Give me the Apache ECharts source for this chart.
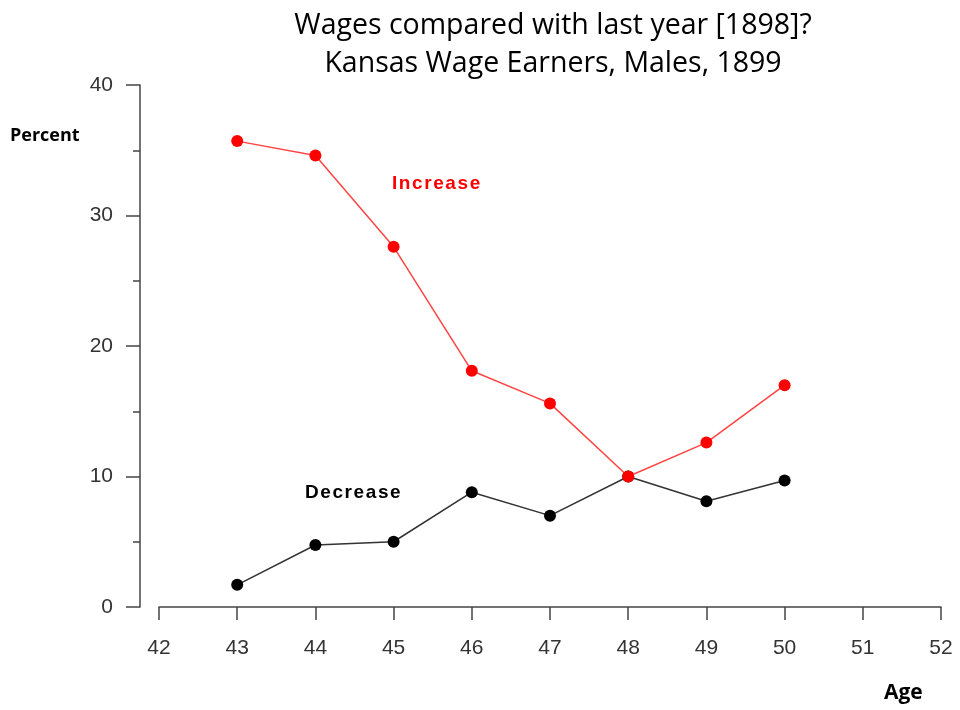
<!DOCTYPE html>
<html><head><meta charset="utf-8">
<script src="https://cdn.jsdelivr.net/npm/echarts@6/dist/echarts.min.js"></script>
<style>html,body{margin:0;padding:0;background:#fff}#c{width:960px;height:710px}</style>
</head><body><div id="c"></div>
<script>
var ages = [43, 44, 45, 46, 47, 48, 49, 50];
var increase = [35.7, 34.6, 27.6, 18.1, 15.6, 10.0, 12.6, 17.0];
var decrease = [1.7, 4.75, 5.0, 8.8, 7.0, 10.0, 8.1, 9.7];
var titleLines = ['Wages compared with last year [1898]?', 'Kansas Wage Earners, Males, 1899'];

function pairs(xs, ys){ return xs.map(function(x,i){return [x, ys[i]];}); }
function spaced(s){ return s.split('').join('\u200A'); }

var chart = echarts.init(document.getElementById('c'));
chart.setOption({
  animation: false,
  backgroundColor: '#fff',
  title: {
    text: titleLines.join('\n'),
    left: 548, top: 2, textAlign: 'center',
    textStyle: {fontFamily: 'Open Sans', fontSize: 28.5, fontWeight: 'normal', color: '#000', lineHeight: 38}
  },
  grid: {left: 159, right: 19, top: 85, bottom: 103},
  xAxis: {
    type: 'value', min: 42, max: 52, interval: 1,
    axisLine: {show: true, lineStyle: {color: '#444', width: 1.5}},
    axisTick: {show: true, length: 13, lineStyle: {color: '#444', width: 1.5}},
    axisLabel: {margin: 31, fontFamily: 'Liberation Sans', fontSize: 21, color: '#333'},
    splitLine: {show: false}
  },
  yAxis: {
    type: 'value', min: 0, max: 40, interval: 10, offset: 19,
    axisLine: {show: true, lineStyle: {color: '#444', width: 1.5}},
    axisTick: {show: true, length: 14, lineStyle: {color: '#444', width: 1.5}},
    minorTick: {show: true, splitNumber: 2, length: 7, lineStyle: {color: '#444', width: 1.5}},
    axisLabel: {margin: 27, fontFamily: 'Liberation Sans', fontSize: 21, color: '#333'},
    splitLine: {show: false}
  },
  graphic: [
    {type: 'text', left: 10, top: 127, style: {text: 'Percent', font: 'bold 18px "Open Sans"', fill: '#000'}},
    {type: 'text', left: 884, top: 683, style: {text: 'Age', font: 'bold 21px "Open Sans"', fill: '#000'}},
    {type: 'text', left: 392, top: 174, style: {text: spaced('Increase'), font: 'bold 19px "Liberation Sans"', fill: '#ff0000'}},
    {type: 'text', left: 305, top: 483, style: {text: spaced('Decrease'), font: 'bold 19px "Liberation Sans"', fill: '#000'}}
  ],
  series: [
    {
      type: 'line', name: 'Decrease', data: pairs(ages, decrease),
      symbol: 'circle', symbolSize: 12,
      lineStyle: {color: '#333', width: 1.5},
      itemStyle: {color: '#000'}, z: 2
    },
    {
      type: 'line', name: 'Increase', data: pairs(ages, increase),
      symbol: 'circle', symbolSize: 12,
      lineStyle: {color: '#ff4444', width: 1.5},
      itemStyle: {color: '#ff0000'}, z: 3
    }
  ]
});
</script></body></html>
